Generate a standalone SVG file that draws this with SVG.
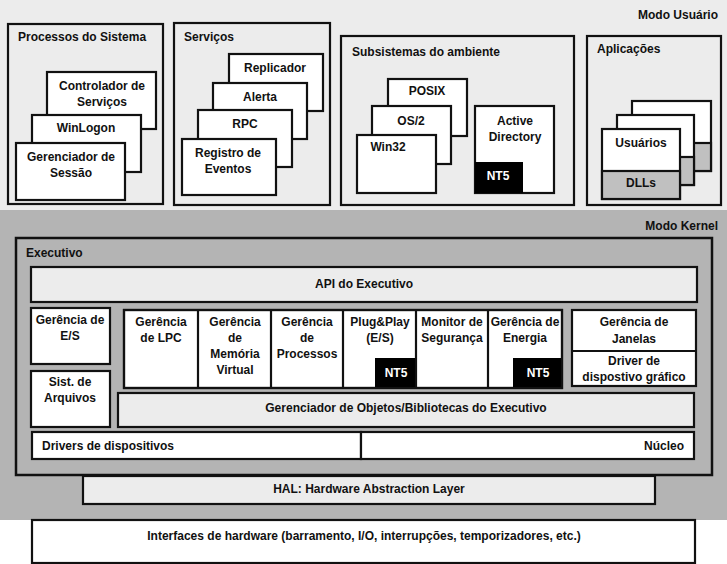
<svg xmlns="http://www.w3.org/2000/svg" width="727" height="564" viewBox="0 0 727 564">
<style>
text{font-family:"Liberation Sans",Arial,sans-serif;font-weight:bold;font-size:12px;fill:#111}
.c{text-anchor:middle}
.e{text-anchor:end}
.w{fill:#fff}
.box{stroke:#111;stroke-width:2.2}
.wb{fill:#fff;stroke:#111;stroke-width:2.2}
.lb{fill:#ececec;stroke:#111;stroke-width:2.2}
.gb{fill:#b4b4b4;stroke:#111;stroke-width:2.5}
.db{fill:#c0c0c0;stroke:#111;stroke-width:2.2}
.blk{fill:#000}
</style>
<rect x="0" y="0" width="727" height="210" fill="#ececec"/>
<rect x="0" y="210" width="727" height="310" fill="#b4b4b4"/>
<rect x="0" y="520" width="727" height="44" fill="#fff"/>
<text class="e" x="718" y="19">Modo Usuário</text>
<text class="e" x="718" y="230">Modo Kernel</text>

<g id="processos">
<rect class="lb" x="8" y="24" width="155" height="180"/>
<text x="18" y="41">Processos do Sistema</text>
<g id="controlador"><rect class="wb" x="47" y="72" width="109" height="57"/><text class="c" x="102" y="90">Controlador de</text><text class="c" x="102" y="106">Serviços</text></g>
<g id="winlogon"><rect class="wb" x="32" y="115" width="109" height="57"/><text class="c" x="86" y="132">WinLogon</text></g>
<g id="gerenciador-sessao"><rect class="wb" x="16" y="143" width="109" height="57"/><text class="c" x="71" y="161">Gerenciador de</text><text class="c" x="71" y="177">Sessão</text></g>
</g>

<g id="servicos">
<rect class="lb" x="174" y="23" width="156" height="182"/>
<text x="184" y="41">Serviços</text>
<g id="replicador"><rect class="wb" x="229" y="54" width="94" height="57"/><text class="c" x="275" y="72">Replicador</text></g>
<g id="alerta"><rect class="wb" x="213" y="83" width="94" height="56"/><text class="c" x="260" y="101">Alerta</text></g>
<g id="rpc"><rect class="wb" x="198" y="110" width="94" height="57"/><text class="c" x="245" y="128">RPC</text></g>
<g id="registro"><rect class="wb" x="182" y="139" width="94" height="56"/><text class="c" x="228" y="157">Registro de</text><text class="c" x="228" y="173">Eventos</text></g>
</g>

<g id="subsistemas">
<rect class="lb" x="341" y="36" width="233" height="169"/>
<text x="352" y="56">Subsistemas do ambiente</text>
<g id="posix"><rect class="wb" x="388" y="79" width="79" height="57"/><text class="c" x="427" y="95">POSIX</text></g>
<g id="os2"><rect class="wb" x="372" y="106" width="79" height="58"/><text class="c" x="411" y="125">OS/2</text></g>
<g id="win32"><rect class="wb" x="357" y="135" width="79" height="58"/><text class="c" x="388" y="151">Win32</text></g>
<g id="active-directory"><rect class="wb" x="475" y="106" width="79" height="87"/><text class="c" x="515" y="125">Active</text><text class="c" x="515" y="141">Directory</text>
<rect class="blk" x="475" y="162" width="48" height="31"/><text class="c w" x="498" y="180">NT5</text></g>
</g>

<g id="aplicacoes">
<rect class="lb" x="587" y="36" width="134" height="169"/>
<text x="597" y="53">Aplicações</text>
<g id="app3"><rect class="wb" x="632" y="101" width="79" height="70"/><rect class="db" x="632" y="143" width="79" height="28"/></g>
<g id="app2"><rect class="wb" x="617" y="115" width="77" height="70"/><rect class="db" x="617" y="157" width="77" height="28"/></g>
<g id="app1"><rect class="wb" x="602" y="129" width="78" height="70"/><rect class="db" x="602" y="171" width="78" height="28"/><text class="c" x="641" y="147">Usuários</text><text class="c" x="641" y="187">DLLs</text></g>
</g>

<g id="executivo">
<rect class="gb" x="16" y="238" width="696" height="237"/>
<text x="26" y="257">Executivo</text>
<g id="api"><rect class="lb" x="31" y="267" width="666" height="35"/><text class="c" x="364" y="288">API do Executivo</text></g>
<g id="gerencia-es"><rect class="wb" x="31" y="308" width="79" height="56"/><text class="c" x="70" y="324">Gerência de</text><text class="c" x="70" y="340">E/S</text></g>
<g id="sist-arquivos"><rect class="wb" x="31" y="371" width="79" height="56"/><text class="c" x="70" y="386">Sist. de</text><text class="c" x="70" y="402">Arquivos</text></g>
<g id="modulos">
<rect class="wb" x="124" y="310" width="438" height="78"/>
<rect class="blk" x="375" y="358" width="41" height="30"/>
<rect class="blk" x="513" y="358" width="49" height="30"/>
<path d="M198 310V388M271 310V388M343 310V388M416 310V388M488 310V388" stroke="#111" stroke-width="2.2" fill="none"/>
<rect x="124" y="310" width="438" height="78" fill="none" stroke="#111" stroke-width="2.2"/>
<g id="lpc"><text class="c" x="161" y="326">Gerência</text><text class="c" x="161" y="342">de LPC</text></g>
<g id="memoria"><text class="c" x="235" y="326">Gerência</text><text class="c" x="235" y="342">de</text><text class="c" x="235" y="358">Memória</text><text class="c" x="235" y="374">Virtual</text></g>
<g id="processos-k"><text class="c" x="307" y="326">Gerência</text><text class="c" x="307" y="342">de</text><text class="c" x="307" y="358">Processos</text></g>
<g id="plugplay"><text class="c" x="380" y="326">Plug&amp;Play</text><text class="c" x="380" y="342">(E/S)</text><text class="c w" x="396" y="377">NT5</text></g>
<g id="monitor"><text class="c" x="452" y="326">Monitor de</text><text class="c" x="452" y="342">Segurança</text></g>
<g id="energia"><text class="c" x="525" y="326">Gerência de</text><text class="c" x="525" y="342">Energia</text><text class="c w" x="538" y="377">NT5</text></g>
</g>
<g id="janelas">
<rect class="wb" x="572" y="310" width="124" height="76"/>
<path d="M572 351H696" stroke="#111" stroke-width="2.2"/>
<text class="c" x="634" y="326">Gerência de</text><text class="c" x="634" y="343">Janelas</text>
<text class="c" x="634" y="365">Driver de</text><text class="c" x="634" y="381">dispostivo gráfico</text>
</g>
<g id="objetos"><rect class="lb" x="118" y="393" width="576" height="34"/><text class="c" x="406" y="412">Gerenciador de Objetos/Bibliotecas do Executivo</text></g>
<g id="drivers"><rect class="wb" x="32" y="432" width="329" height="27"/><text x="42" y="450">Drivers de dispositivos</text></g>
<g id="nucleo"><rect class="wb" x="361" y="432" width="333" height="27"/><text class="e" x="684" y="450">Núcleo</text></g>
</g>

<g id="hal"><rect class="lb" x="83" y="476" width="572" height="28"/><text class="c" x="369" y="493">HAL: Hardware Abstraction Layer</text></g>
<g id="interfaces"><rect class="wb" x="32" y="520" width="663" height="43"/><text class="c" x="364" y="540">Interfaces de hardware (barramento, I/O, interrupções, temporizadores, etc.)</text></g>
<g id="connectors"/>
</svg>
